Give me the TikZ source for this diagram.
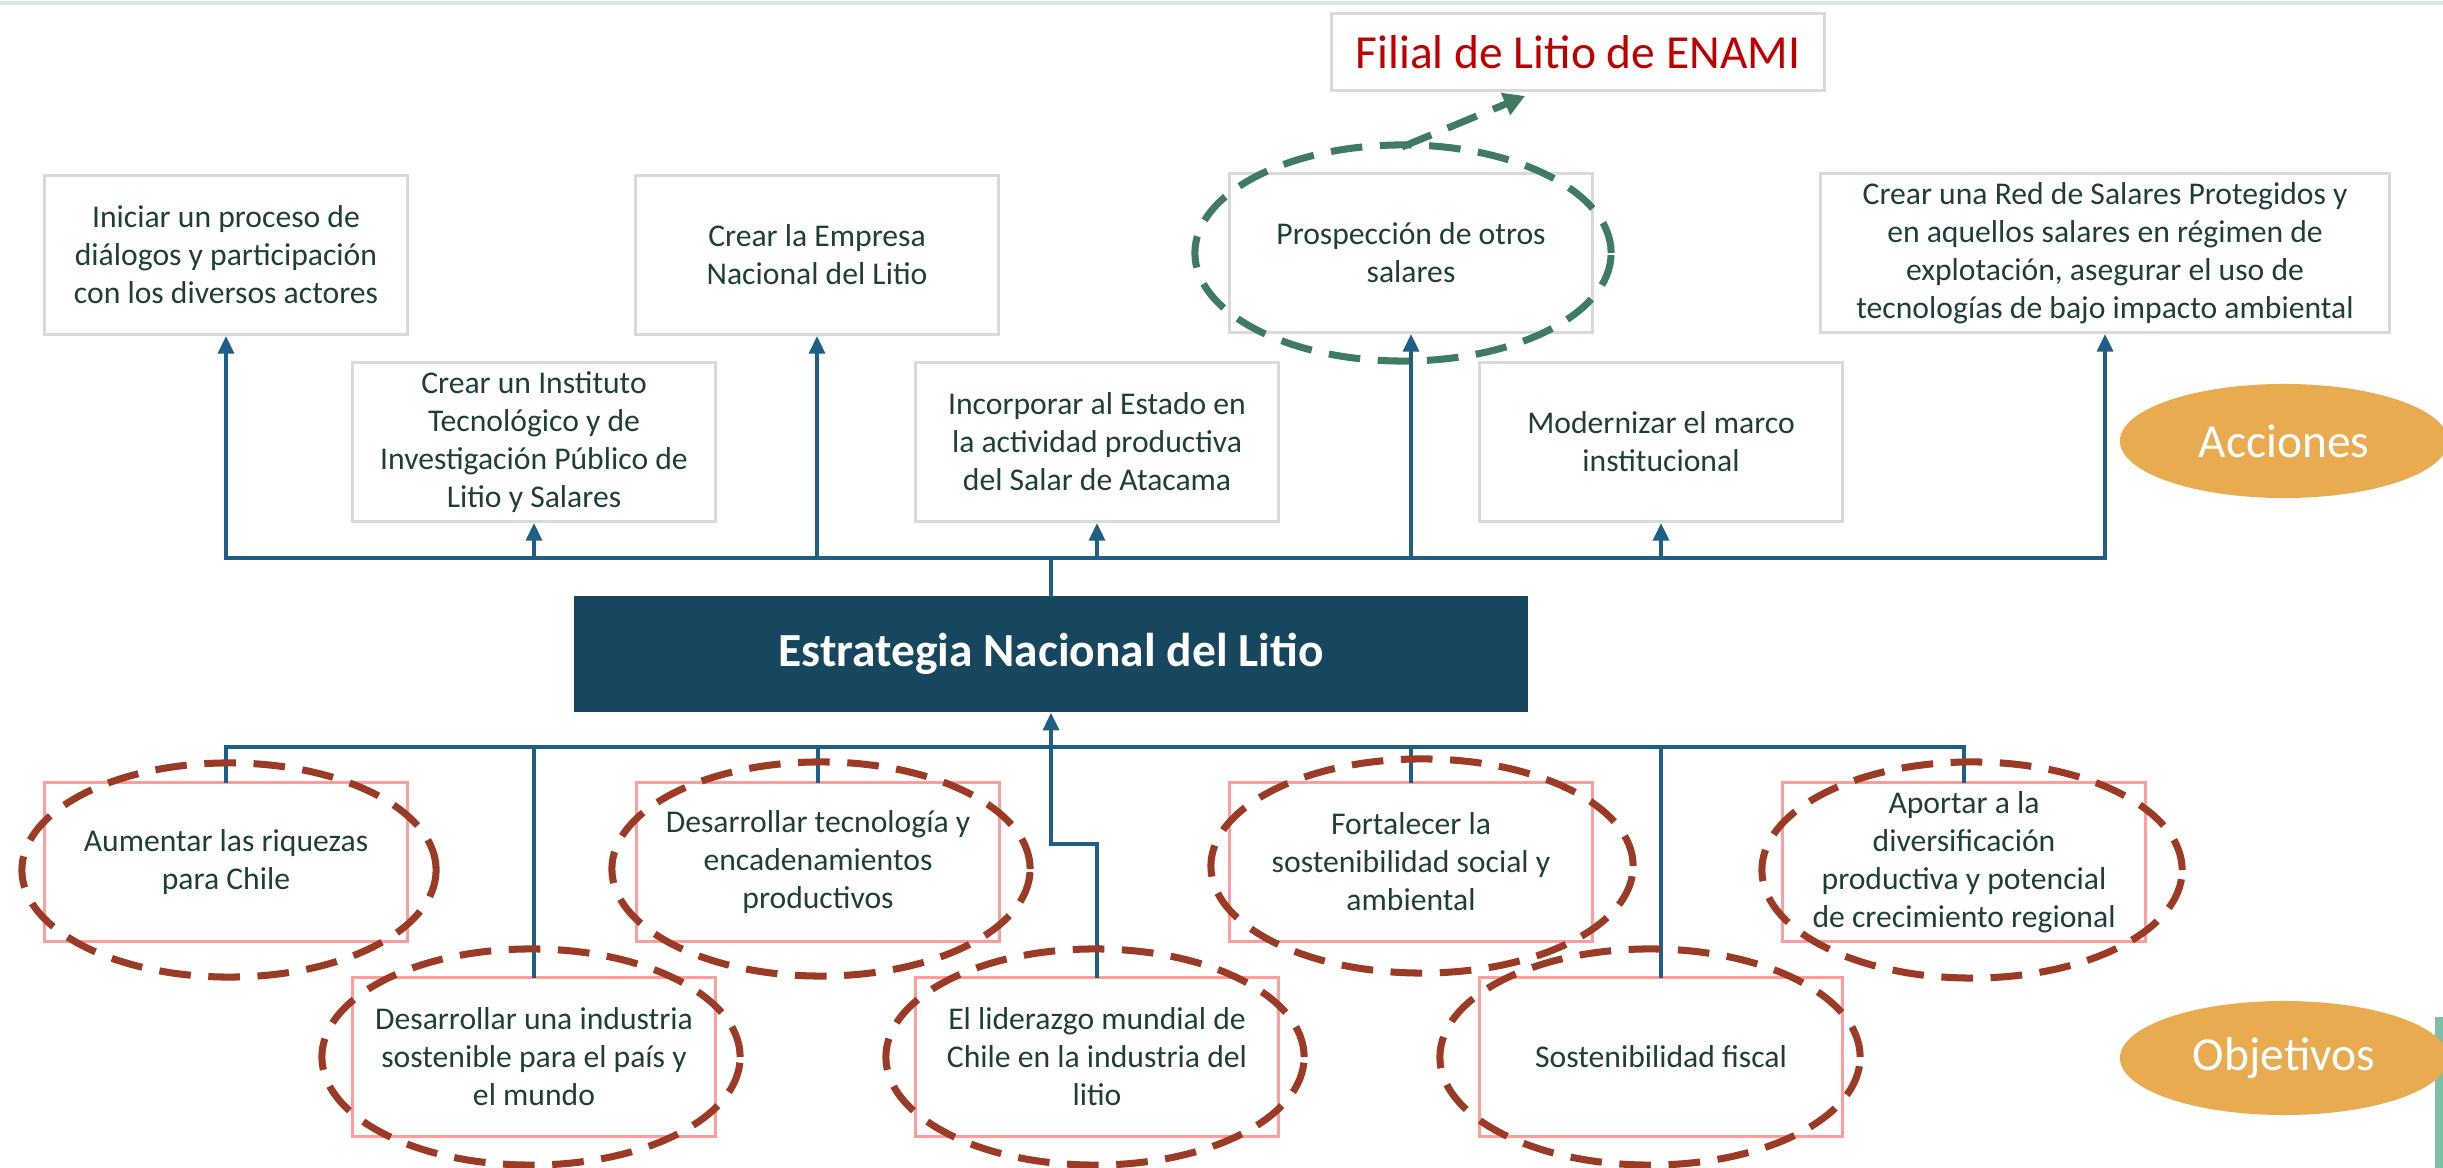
\documentclass[tikz,border=0pt]{standalone}
\usepackage{fontspec}
\setmainfont{Carlito}
\usetikzlibrary{arrows.meta,shapes.geometric}

\definecolor{azulest}{HTML}{17475F}
\definecolor{azullinea}{HTML}{1F5F86}
\definecolor{grisborde}{HTML}{D9D9D9}
\definecolor{rosaborde}{HTML}{FF9D9D}
\definecolor{textoverde}{HTML}{1F3F36}
\definecolor{rojofilial}{HTML}{C00000}
\definecolor{verdepunteado}{HTML}{3F7B62}
\definecolor{rojopunteado}{HTML}{9B3A25}
\definecolor{naranja}{HTML}{E8AB4F}
\definecolor{lineatope}{HTML}{D6EAE4}
\definecolor{barraverde}{HTML}{7DBFA3}

\begin{document}
\begin{tikzpicture}[x=0.01cm, y=-0.01cm,
    accion/.style={draw=grisborde, line width=0.85pt, text=textoverde, align=center,
      font=\fontsize{9}{10.8}\selectfont, minimum width=3.63cm, minimum height=1.59cm, inner sep=1pt},
    objetivo/.style={accion, draw=rosaborde},
    conector/.style={azullinea, line width=1.1pt, line cap=rect},
    flecha/.style={conector, -{Triangle[length=5pt,width=4.5pt]}},
    elipsered/.style={rojopunteado, line width=2pt, dash pattern=on 9pt off 5pt},
    elipseverde/.style={verdepunteado, line width=2pt, dash pattern=on 9pt off 5pt},
    etiqueta/.style={ellipse, fill=naranja, text=white, font=\fontsize{13.5}{16}\selectfont,
      minimum width=3.28cm, minimum height=1.14cm}]
    \useasboundingbox (0,0) rectangle (2443,1168);

    % Top line and side bar
    \draw[lineatope, line width=1pt] (0,3) -- (2443,3);
    \fill[barraverde] (2435,1017) rectangle (2443,1168);

    % Acciones
    \node[accion] (iniciar) at (226,255) {Iniciar un proceso de\\ diálogos y participación\\ con los diversos actores};
    \node[accion] (empresa) at (817,255) {Crear la Empresa\\ Nacional del Litio};
    \node[accion] (prospeccion) at (1411,253) {Prospección de otros\\ salares};
    \node[accion, minimum width=5.69cm] (red) at (2105,253) {Crear una Red de Salares Protegidos y\\ en aquellos salares en régimen de\\ explotación, asegurar el uso de\\ tecnologías de bajo impacto ambiental};
    \node[accion] (instituto) at (534,442) {Crear un Instituto\\ Tecnológico y de\\ Investigación Público de\\ Litio y Salares};
    \node[accion] (incorporar) at (1097,442) {Incorporar al Estado en\\ la actividad productiva\\ del Salar de Atacama};
    \node[accion] (modernizar) at (1661,442) {Modernizar el marco\\ institucional};

    \node[draw=grisborde, line width=0.85pt, text=rojofilial, font=\fontsize{13.5}{16}\selectfont,
      minimum width=4.93cm, minimum height=0.77cm] (filial) at (1578,52) {Filial de Litio de ENAMI};

    % Central box
    \node[fill=azulest, text=white, font=\bfseries\fontsize{13.5}{16}\selectfont,
      minimum width=9.53cm, minimum height=1.16cm] (estrategia) at (1051,654) {Estrategia Nacional del Litio};

    % Objetivos
    \node[objetivo] (aumentar) at (226,862) {Aumentar las riquezas\\ para Chile};
    \node[objetivo] (tecnologia) at (818,862) {Desarrollar tecnología y\\ encadenamientos\\ productivos};
    \node[objetivo] (fortalecer) at (1411,862) {Fortalecer la\\ sostenibilidad social y\\ ambiental};
    \node[objetivo] (aportar) at (1964,862) {Aportar a la\\ diversificación\\ productiva y potencial\\ de crecimiento regional};
    \node[objetivo] (industria) at (534,1057) {Desarrollar una industria\\ sostenible para el país y\\ el mundo};
    \node[objetivo] (liderazgo) at (1097,1057) {El liderazgo mundial de\\ Chile en la industria del\\ litio};
    \node[objetivo] (fiscal) at (1661,1057) {Sostenibilidad fiscal};

    % Labels
    \node[etiqueta] (acciones) at (2284,441) {Acciones};
    \node[etiqueta] (objetivos) at (2284,1058) {Objetivos};

    % Connectors up
    \coordinate (busarriba) at (1051,558);
    \draw[conector] (estrategia.north) -- (busarriba);
    \draw[conector] (busarriba -| iniciar.south) -- (busarriba -| red.south);
    \foreach \n in {iniciar,instituto,empresa,incorporar,prospeccion,modernizar,red}
        \draw[flecha] (busarriba -| \n.south) -- (\n.south);

    % Connectors down
    \coordinate (busabajo) at (1051,747);
    \draw[flecha] (busabajo) -- (estrategia.south);
    \draw[conector] (busabajo -| aumentar.north) -- (busabajo -| aportar.north);
    \foreach \n in {aumentar,industria,tecnologia,fortalecer,fiscal,aportar}
        \draw[conector] (busabajo -| \n.north) -- (\n.north);
    \draw[conector] (busabajo) -- ++(0,97) -| (liderazgo.north);

    % Dashed highlights
    \draw[elipseverde] (1403,253) ellipse [x radius=2.08cm, y radius=1.08cm];
    \coordinate (topeverde) at (1402,147);
    \draw[elipseverde, -{Triangle[length=6pt,width=6.5pt]}] (topeverde) -- ([xshift=-0.53cm,yshift=-0.04cm]filial.south);
    \draw[elipsered] (229,870) ellipse [x radius=2.07cm, y radius=1.07cm];
    \draw[elipsered] (821,869) ellipse [x radius=2.09cm, y radius=1.07cm];
    \draw[elipsered] (1422,866) ellipse [x radius=2.11cm, y radius=1.07cm];
    \draw[elipsered] (1972,870) ellipse [x radius=2.10cm, y radius=1.08cm];
    \draw[elipsered] (531,1057) ellipse [x radius=2.09cm, y radius=1.08cm];
    \draw[elipsered] (1095,1057) ellipse [x radius=2.09cm, y radius=1.08cm];
    \draw[elipsered] (1650,1057) ellipse [x radius=2.10cm, y radius=1.08cm];
\end{tikzpicture}
\end{document}
